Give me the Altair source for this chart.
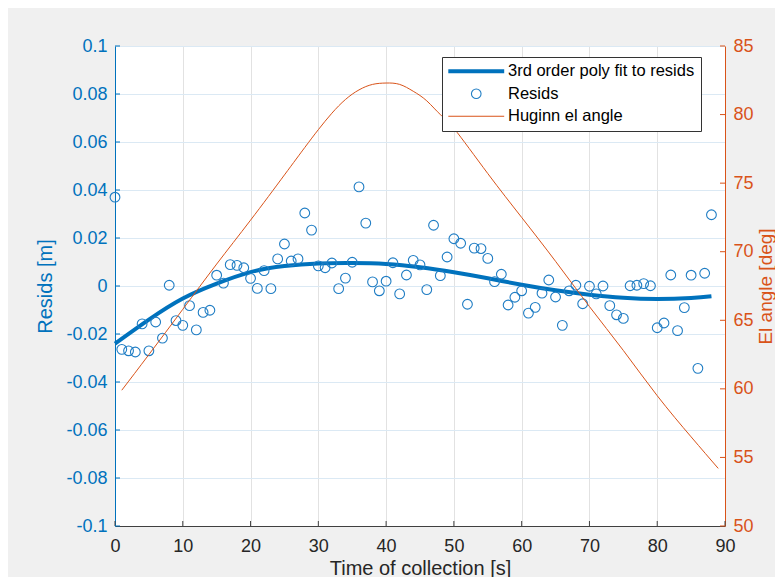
import altair as alt
import pandas as pd

# ---------------- data ----------------
t_resid = list(range(89))
resid = [0.037, -0.0264, -0.027, -0.0275, -0.0158, -0.027, -0.015, -0.0217, 0.0003, -0.0144,
         -0.0164, -0.0082, -0.0183, -0.011, -0.0101, 0.0045, 0.0012, 0.0089, 0.0086, 0.0076,
         0.0032, -0.001, 0.0064, -0.0011, 0.0113, 0.0175, 0.0104, 0.0113, 0.0304, 0.0233,
         0.0084, 0.0076, 0.0096, -0.0011, 0.0033, 0.0099, 0.0413, 0.0262, 0.0017, -0.002,
         0.002, 0.0097, -0.0033, 0.0046, 0.0107, 0.0088, -0.0015, 0.0253, 0.0043, 0.0121,
         0.0197, 0.0178, -0.0076, 0.0158, 0.0156, 0.0115, 0.0018, 0.0049, -0.0079, -0.0047,
         -0.002, -0.0113, -0.0089, -0.003, 0.0025, -0.0046, -0.0164, -0.002, 0.0003, -0.0074,
         -0.0001, -0.0033, 0.0, -0.0082, -0.012, -0.0135, 0.0001, 0.0003, 0.001, 0.0001,
         -0.0174, -0.0154, 0.0046, -0.0186, -0.009, 0.0045, -0.0343, 0.0053, 0.0297]

t_fit = [0, 5, 10, 15, 20, 25, 30, 35, 40, 45, 50, 55, 60, 65, 70, 75, 80, 85, 88]
fit = [-0.0240, -0.0140, -0.0052, 0.0010, 0.0058, 0.0083, 0.0094, 0.0096, 0.0092, 0.0078,
       0.0057, 0.0032, 0.0005, -0.0018, -0.0036, -0.0049, -0.0054, -0.0050, -0.0043]

t_el = [1, 5, 10, 15, 20, 25, 28, 30, 32, 34, 36, 38, 40, 42, 44, 46, 48, 50, 55, 60, 65, 70,
        75, 80, 85, 89]
el = [59.9, 62.5, 65.8, 69.1, 72.3, 75.6, 77.6, 78.9, 80.1, 81.1, 81.8, 82.2, 82.3, 82.2, 81.7,
      81.0, 80.0, 79.0, 75.7, 72.5, 69.3, 66.0, 62.8, 59.5, 56.5, 54.2]

x_ticks = [0, 10, 20, 30, 40, 50, 60, 70, 80, 90]
left_ticks = [-0.1, -0.08, -0.06, -0.04, -0.02, 0, 0.02, 0.04, 0.06, 0.08, 0.1]
right_ticks = [50, 55, 60, 65, 70, 75, 80, 85]

series = ["3rd order poly fit to resids", "Resids", "Huginn el angle"]

# ---------------- styling ----------------
BLUE = "#0072BD"
PT = "#1f7dc4"
ORANGE = "#D95319"
DARK = "#262626"
FONT = "Liberation Sans"

df_resid = pd.DataFrame({"t": t_resid, "v": resid, "series": series[1]})
df_fit = pd.DataFrame({"t": t_fit, "v": fit, "series": series[0]})
df_el = pd.DataFrame({"t": t_el, "v": el, "series": series[2]})
df_xt = pd.DataFrame({"v": x_ticks})
df_lt = pd.DataFrame({"v": left_ticks})
df_rt = pd.DataFrame({"v": right_ticks})

xsc = alt.Scale(domain=[0, 90], nice=False, zero=False)
ysc_l = alt.Scale(domain=[-0.1, 0.1], nice=False, zero=False)
ysc_r = alt.Scale(domain=[50, 85], nice=False, zero=False)

x_axis = alt.Axis(values=x_ticks, title="Time of collection [s]", grid=True,
                  gridColor="#e2e2e2", gridWidth=1, domainColor="#404040", ticks=False,
                  labelColor=DARK, labelFont=FONT, labelFontSize=18, labelPadding=11,
                  labelFlush=False,
                  titleFont=FONT, titleFontSize=20, titleFontWeight="normal",
                  titleColor=DARK, titlePadding=3)

left_axis = alt.Axis(values=left_ticks, title="Resids [m]", grid=True, gridColor="#dbe9f4",
                     gridWidth=1, domainColor=BLUE, ticks=False, labelColor=BLUE,
                     labelFont=FONT, labelFontSize=18, labelPadding=8, labelFlush=False,
                     labelExpr="replace(format(datum.value, '.2~f'), '\u2212', '-')",
                     titleFont=FONT, titleFontSize=20, titleFontWeight="normal",
                     titleColor=BLUE, titlePadding=10)

right_axis = alt.Axis(orient="right", values=right_ticks, title="El angle [deg]", grid=False,
                      domainColor=ORANGE, ticks=False, labelColor=ORANGE, labelFont=FONT,
                      labelFontSize=18, labelPadding=8, labelFlush=False,
                      titleFont=FONT, titleFontSize=19,
                      titleFontWeight="normal", titleColor=ORANGE, titleAngle=270,
                      titleBaseline="top", titlePadding=3)

is_fit = "datum.value === '3rd order poly fit to resids'"
is_res = "datum.value === 'Resids'"
circle_path = "M0.86,0A0.86,0.86,0,1,1,-0.86,0A0.86,0.86,0,1,1,0.86,0Z"
line_path = "M-5,0H5"
legend = alt.Legend(
    title=None, orient="none", legendX=327, legendY=11,
    fillColor="white", strokeColor="#333333", padding=6,
    labelFont=FONT, labelFontSize=16.5, labelColor="#000000",
    labelOffset=23.5, labelLimit=400,
    symbolType=alt.ExprRef(expr=f"{is_res} ? '{circle_path}' : '{line_path}'"),
    symbolSize=125, symbolOffset=20,
    symbolStrokeWidth=alt.ExprRef(expr=f"{is_fit} ? 4 : ({is_res} ? 1.1 : 1)"),
    symbolFillColor="transparent",
    symbolOpacity=1,
    rowPadding=5.5,
)
color = alt.Color("series:N", scale=alt.Scale(domain=series, range=[BLUE, PT, ORANGE]),
                  legend=legend)

fit_line = alt.Chart(df_fit).mark_line(strokeWidth=4, interpolate="natural").encode(
    x=alt.X("t:Q", scale=xsc, axis=x_axis),
    y=alt.Y("v:Q", scale=ysc_l, axis=left_axis),
    color=color)

pts = alt.Chart(df_resid).mark_point(filled=False, size=95, strokeWidth=1.1, opacity=1).encode(
    x=alt.X("t:Q", scale=xsc, axis=x_axis),
    y=alt.Y("v:Q", scale=ysc_l, axis=left_axis),
    color=color)

xt = alt.Chart(df_xt).mark_rule(color="#404040", strokeWidth=1).encode(
    x=alt.X("v:Q", scale=xsc, axis=x_axis),
    y=alt.value(480), y2=alt.value(475))

lt = alt.Chart(df_lt).mark_rule(color=BLUE, strokeWidth=1).encode(
    y=alt.Y("v:Q", scale=ysc_l, axis=left_axis),
    x=alt.value(0), x2=alt.value(5))

el_line = alt.Chart(df_el).mark_line(strokeWidth=1, interpolate="natural").encode(
    x=alt.X("t:Q", scale=xsc, axis=x_axis),
    y=alt.Y("v:Q", scale=ysc_r, axis=right_axis),
    color=color)

rt = alt.Chart(df_rt).mark_rule(color=ORANGE, strokeWidth=1).encode(
    y=alt.Y("v:Q", scale=ysc_r, axis=right_axis),
    x=alt.value(605), x2=alt.value(610))

left_group = alt.layer(xt, lt, fit_line, pts)
right_group = alt.layer(el_line, rt)

chart = alt.layer(left_group, right_group).resolve_scale(y="independent").properties(
    width=610, height=480,
    autosize=alt.AutoSizeParams(type="none"),
    padding={"left": 107, "top": 38, "right": 50, "bottom": 51},
).configure(background="#f0f0f0", font=FONT).configure_view(stroke=None, fill="white")

chart.save("out.html", embed_options={"renderer": "svg", "actions": False})
